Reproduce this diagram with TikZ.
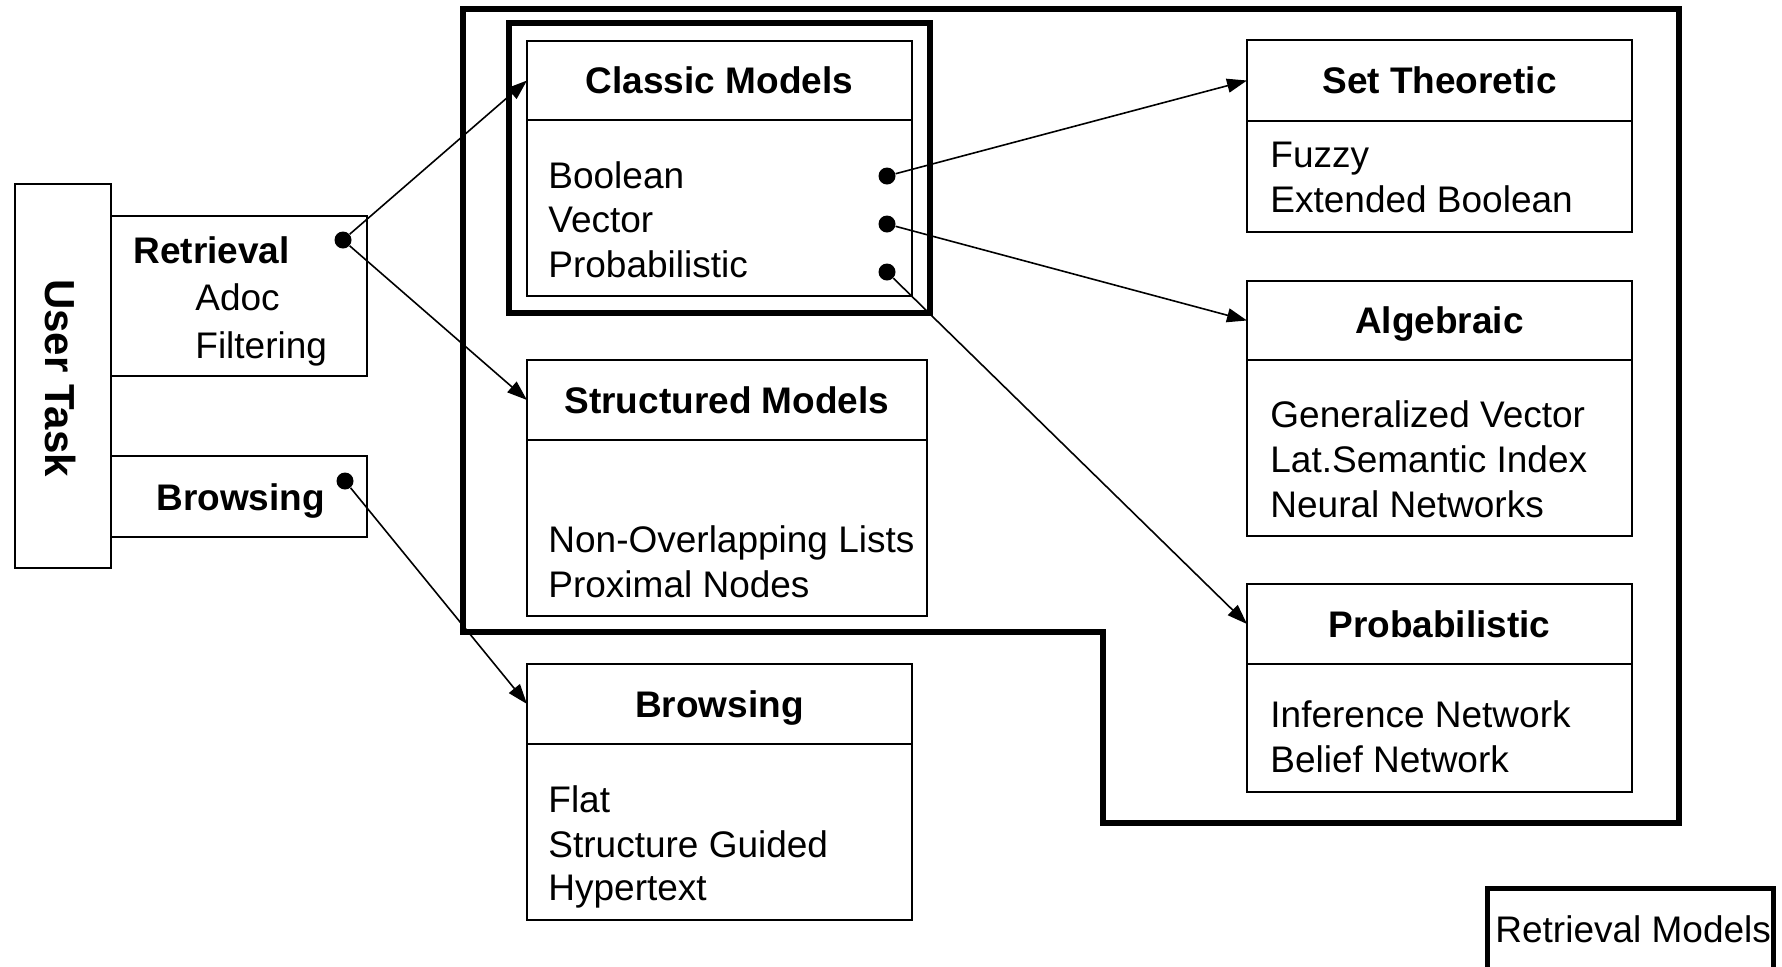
\documentclass[tikz,border=0pt]{standalone}
\usepackage{fontspec}
\setmainfont{Liberation Sans}
\usetikzlibrary{arrows.meta}
\begin{document}
\begin{tikzpicture}[x=0.5pt,y=-0.5pt,
  box/.style={draw, line width=1pt, rectangle, inner sep=0pt, outer sep=0pt, anchor=north west},
  headbox/.style={box, font=\fontsize{18.5}{22}\selectfont\bfseries, text height=13.25pt, text depth=0pt},
  textline/.style={anchor=base west, inner sep=0pt, font=\fontsize{18.5}{22}\selectfont},
  boldline/.style={textline, font=\fontsize{18.5}{22}\selectfont\bfseries},
  portdot/.style={circle, fill=black, inner sep=0pt, minimum size=8.5pt},
  link/.style={line width=0.8pt, -{Triangle[length=10pt,width=7pt]}},
  thickframe/.style={line width=2.6pt},
]
\useasboundingbox (0,0) rectangle (1782,966);

% ---- retrieval models region
\draw[thickframe] (463,9) -- (1679,9) -- (1679,823) -- (1103,823) -- (1103,632) -- (463,632) -- cycle;

% ---- user task column
\node[box, minimum width=48pt, minimum height=192pt] (usertask) at (15,184) {};
\node[font=\fontsize{21}{24}\selectfont\bfseries, rotate=-90] (usertasklabel) at (61,378) {User Task};
\node[box, minimum width=128pt, minimum height=80pt] (retrbox) at (111,216) {};
\node[boldline] (retrlabel) at (133,263) {Retrieval};
\node[textline] (adoc) at (195,310) {Adoc};
\node[textline] (filtering) at (195,358) {Filtering};
\node[box, minimum width=128pt, minimum height=40.5pt] (browsebox) at (111,456) {};
\node[boldline] (browselabel) at (156,510) {Browsing};

% ---- classic models
\node[box, line width=2.75pt, minimum width=210.5pt, minimum height=145pt] (classframe) at (509,23) {};
\node[headbox, minimum width=192.5pt, minimum height=39.5pt] (classhead) at (527,41) {Classic Models};
\node[box, minimum width=192.5pt, minimum height=88pt] (classbody) at (527,120) {};
\node[textline] (boolean) at (548,188) {Boolean};
\node[textline] (vector) at (548,232) {Vector};
\node[textline] (probab) at (548,277) {Probabilistic};

% ---- structured models
\node[headbox, minimum width=200pt, minimum height=40pt] (structhead) at (527,360) {Structured Models};
\node[box, minimum width=200pt, minimum height=88pt] (structbody) at (527,440) {};
\node[textline] (nonoverlap) at (548,552) {Non-Overlapping Lists};
\node[textline] (proximal) at (548,597) {Proximal Nodes};

% ---- browsing
\node[headbox, minimum width=192.5pt, minimum height=40pt] (browsehead) at (527,664) {Browsing};
\node[box, minimum width=192.5pt, minimum height=88pt] (browsebody) at (527,744) {};
\node[textline] (flat) at (548,812) {Flat};
\node[textline] (structguided) at (548,857) {Structure Guided};
\node[textline] (hypertext) at (548,900) {Hypertext};

% ---- set theoretic
\node[headbox, minimum width=192.5pt, minimum height=40.5pt] (setshead) at (1247,40) {Set Theoretic};
\node[box, minimum width=192.5pt, minimum height=55.5pt] (setsbody) at (1247,121) {};
\node[textline] (fuzzy) at (1270,167) {Fuzzy};
\node[textline] (extbool) at (1270,212) {Extended Boolean};

% ---- algebraic
\node[headbox, minimum width=192.5pt, minimum height=39.5pt] (alghead) at (1247,281) {Algebraic};
\node[box, minimum width=192.5pt, minimum height=88pt] (algbody) at (1247,360) {};
\node[textline] (genvec) at (1270,427) {Generalized Vector};
\node[textline] (latsem) at (1270,472) {Lat.Semantic Index};
\node[textline] (neural) at (1270,517) {Neural Networks};

% ---- probabilistic
\node[headbox, minimum width=192.5pt, minimum height=40pt] (probhead) at (1247,584) {Probabilistic};
\node[box, minimum width=192.5pt, minimum height=64pt] (probbody) at (1247,664) {};
\node[textline] (inference) at (1270,727) {Inference Network};
\node[textline] (belief) at (1270,772) {Belief Network};

% ---- legend
\node[box, line width=2.5pt, minimum width=143pt, minimum height=50pt] (legendbox) at (1487,888) {};
\node[textline] (legendtext) at (1495,942) {Retrieval Models};

% ---- connection points
\node[portdot] (retdot) at (343,240) {};
\node[portdot] (brdot) at (345,481) {};
\node[portdot] (booldot) at (887,176) {};
\node[portdot] (vecdot) at (887,224) {};
\node[portdot] (probdot) at (887,272) {};

% ---- connectors
\draw[link] (retdot) -- (classhead.west);
\draw[link] (retdot) -- (structhead.west);
\draw[link] (brdot) -- (browsehead.west);
\draw[link] (booldot) -- (setshead.west);
\draw[link] (vecdot) -- (alghead.west);
\draw[link] (probdot) -- (probhead.west);
\end{tikzpicture}
\end{document}
